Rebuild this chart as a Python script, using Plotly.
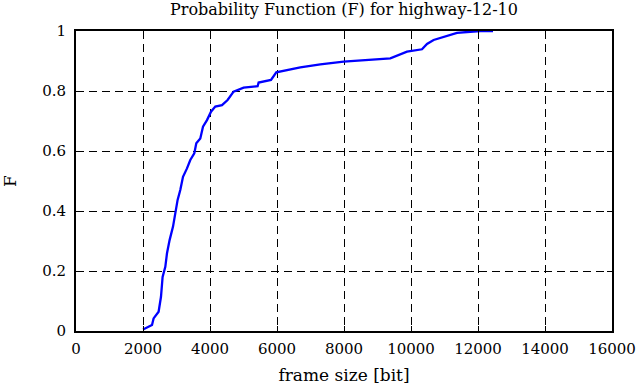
import plotly.graph_objects as go

frame_size = [2000, 2269, 2316, 2466, 2537, 2585, 2666, 2716, 2794, 2896, 2964, 3033, 3113,
              3194, 3313, 3412, 3531, 3591, 3710, 3791, 3910, 4030, 4158, 4358, 4525, 4704,
              5003, 5421, 5451, 5821, 5979, 6696, 7293, 7988, 9382, 9681, 9881, 10328,
              10478, 10675, 11024, 11373, 12069, 12448]
F = [0.005, 0.02, 0.042, 0.064, 0.114, 0.18, 0.214, 0.259, 0.303, 0.348, 0.392, 0.437, 0.47,
     0.514, 0.542, 0.57, 0.592, 0.626, 0.642, 0.681, 0.703, 0.731, 0.748, 0.753, 0.77, 0.798,
     0.811, 0.816, 0.828, 0.837, 0.862, 0.879, 0.889, 0.898, 0.909, 0.922, 0.931, 0.939,
     0.957, 0.97, 0.981, 0.994, 1.0, 1.0]

x_ticks = [0, 2000, 4000, 6000, 8000, 10000, 12000, 14000, 16000]
y_ticks = [0, 0.2, 0.4, 0.6, 0.8, 1]
y_tick_labels = ["0", "0.2", "0.4", "0.6", "0.8", "1"]

font = "DejaVu Serif"

fig = go.Figure()
fig.add_trace(go.Scatter(x=frame_size, y=F, mode="lines",
                         line=dict(color="#0000ff", width=2.3), showlegend=False))

axis_common = dict(showline=True, linecolor="black", linewidth=2, mirror="ticks",
                   ticks="inside", ticklen=5, tickcolor="black", tickwidth=1,
                   showgrid=True, gridcolor="black", gridwidth=1, griddash="8px,5px",
                   zeroline=False, automargin=False,
                   tickfont=dict(family=font, size=15, color="black"))

fig.update_layout(
    width=639, height=387,
    margin=dict(l=76, r=27, t=31, b=56),
    paper_bgcolor="white", plot_bgcolor="white",
    title=dict(text="Probability Function (F) for highway-12-10", x=0.5, xref="paper",
               xanchor="center", y=1, yref="paper", yanchor="bottom", pad=dict(b=16),
               font=dict(family=font, size=16, color="black")),
    xaxis=dict(range=[0, 16000], tickvals=x_ticks, ticktext=[str(v) for v in x_ticks],
               ticklabelstandoff=3,
               title=dict(text="frame size [bit]", font=dict(family=font, size=17, color="black"), standoff=12),
               **axis_common),
    yaxis=dict(range=[0, 1], tickvals=y_ticks, ticktext=y_tick_labels,
               ticklabelstandoff=5,
               title=dict(text="F", font=dict(family=font, size=17, color="black"), standoff=28),
               **axis_common),
)

fig.write_html("out.html",
               config={"displayModeBar": False},
               post_script="document.body.style.margin='0';document.body.style.overflow='hidden';")
